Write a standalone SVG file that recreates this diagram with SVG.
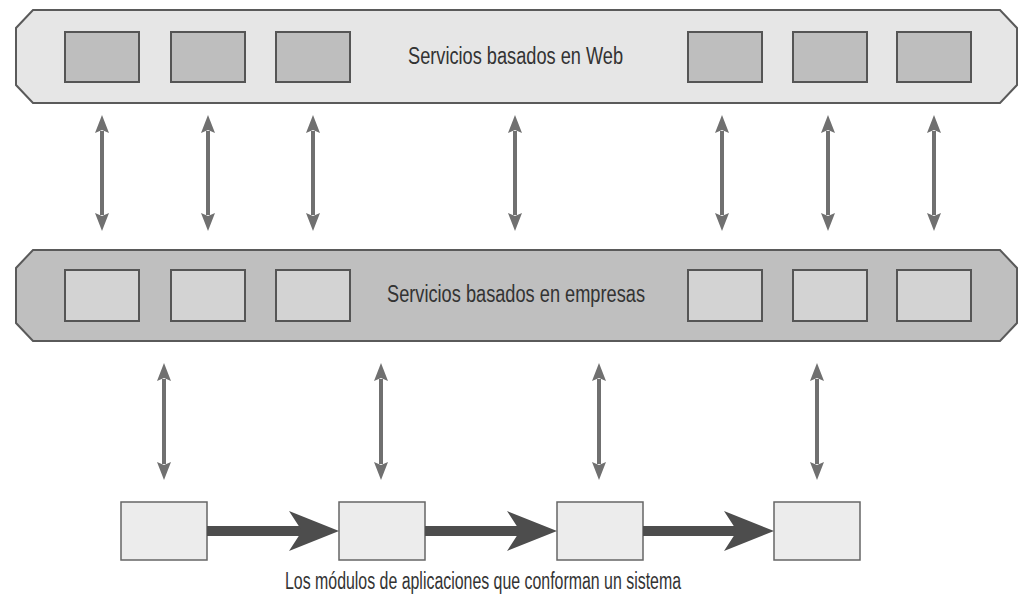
<svg xmlns="http://www.w3.org/2000/svg" width="1018" height="595" viewBox="0 0 1018 595">
<style>
.bar1{fill:#e6e6e6;stroke:#5a5a5a;stroke-width:2}
.bar2{fill:#bfbfbf;stroke:#5a5a5a;stroke-width:2}
.tbox{fill:#bebebe;stroke:#555;stroke-width:2}
.mbox{fill:#d3d3d3;stroke:#555;stroke-width:2}
.bbox{fill:#ececec;stroke:#666;stroke-width:1.5}
.lbl{font-family:"Liberation Sans",Arial,sans-serif;font-size:23px;fill:#333;text-anchor:middle}
.dbl{stroke:#707070;stroke-width:4;fill:none;marker-start:url(#ah);marker-end:url(#ah)}
.flow{stroke:#4d4d4d;stroke-width:10;fill:none;marker-end:url(#fh)}
</style>
<defs>
<marker id="ah" markerUnits="userSpaceOnUse" markerWidth="20" markerHeight="16" refX="2" refY="7" orient="auto-start-reverse" viewBox="0 0 20 14">
<path d="M0,0 L18,7 L0,14 L3,7 z" fill="#707070"/>
</marker>
<marker id="fh" markerUnits="userSpaceOnUse" markerWidth="52" markerHeight="42" refX="13" refY="20" orient="auto" viewBox="0 0 52 40">
<path d="M0,0 L50,20 L0,40 L13,20 z" fill="#4d4d4d"/>
</marker>
</defs>

<g id="web-layer">
<polygon class="bar1" points="33,10 1000,10 1017,28 1017,85 1000,103 33,103 16,85 16,28"/>
<rect class="tbox" x="65" y="32" width="74" height="50"/>
<rect class="tbox" x="171" y="32" width="74" height="50"/>
<rect class="tbox" x="276" y="32" width="74" height="50"/>
<rect class="tbox" x="688" y="32" width="74" height="50"/>
<rect class="tbox" x="793" y="32" width="74" height="50"/>
<rect class="tbox" x="897" y="32" width="74" height="50"/>
<text class="lbl" x="515.5" y="64" textLength="215" lengthAdjust="spacingAndGlyphs">Servicios basados en Web</text>
</g>

<g id="enterprise-layer">
<polygon class="bar2" points="33,250 1000,250 1017,268 1017,323 1000,341 33,341 16,323 16,268"/>
<rect class="mbox" x="65" y="270" width="74" height="51"/>
<rect class="mbox" x="171" y="270" width="74" height="51"/>
<rect class="mbox" x="276" y="270" width="74" height="51"/>
<rect class="mbox" x="688" y="270" width="74" height="51"/>
<rect class="mbox" x="793" y="270" width="74" height="51"/>
<rect class="mbox" x="897" y="270" width="74" height="51"/>
<text class="lbl" x="516" y="302" textLength="258" lengthAdjust="spacingAndGlyphs">Servicios basados en empresas</text>
</g>

<g id="module-1"><rect class="bbox" x="121" y="502" width="86" height="58"/></g>
<g id="module-2"><rect class="bbox" x="339" y="502" width="86" height="58"/></g>
<g id="module-3"><rect class="bbox" x="557" y="502" width="86" height="58"/></g>
<g id="module-4"><rect class="bbox" x="774" y="502" width="86" height="58"/></g>

<g id="connectors">
<line class="dbl" x1="102" y1="131" x2="102" y2="215"/>
<line class="dbl" x1="208" y1="131" x2="208" y2="215"/>
<line class="dbl" x1="313" y1="131" x2="313" y2="215"/>
<line class="dbl" x1="515" y1="131" x2="515" y2="215"/>
<line class="dbl" x1="722" y1="131" x2="722" y2="215"/>
<line class="dbl" x1="828" y1="131" x2="828" y2="215"/>
<line class="dbl" x1="934" y1="131" x2="934" y2="215"/>
<line class="dbl" x1="164" y1="379" x2="164" y2="464"/>
<line class="dbl" x1="381" y1="379" x2="381" y2="464"/>
<line class="dbl" x1="599" y1="379" x2="599" y2="464"/>
<line class="dbl" x1="817" y1="379" x2="817" y2="464"/>
<line class="flow" x1="207" y1="531" x2="302" y2="531"/>
<line class="flow" x1="425" y1="531" x2="520" y2="531"/>
<line class="flow" x1="643" y1="531" x2="737" y2="531"/>
</g>

<text class="lbl" x="483" y="589" textLength="396" lengthAdjust="spacingAndGlyphs">Los módulos de aplicaciones que conforman un sistema</text>
</svg>
